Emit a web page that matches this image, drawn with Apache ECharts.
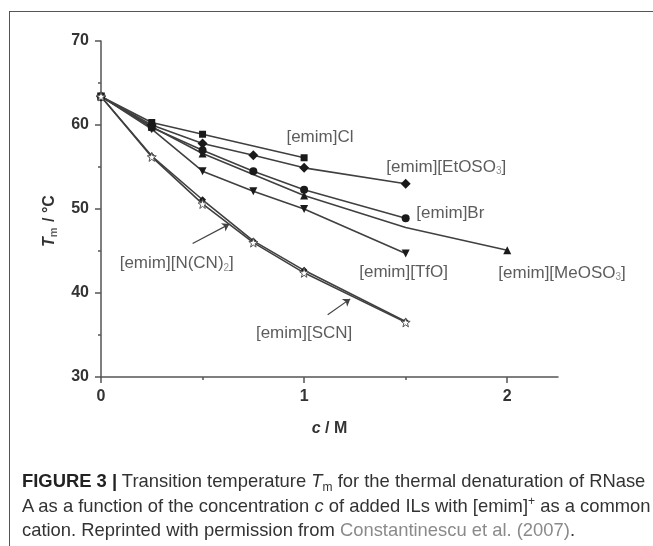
<!DOCTYPE html>
<html>
<head>
<meta charset="utf-8">
<script src="https://cdn.jsdelivr.net/npm/echarts@6/dist/echarts.min.js"></script>
<style>
html, body { margin: 0; padding: 0; background: #fff; }
#frame { position: absolute; left: 9px; top: 11px; width: 700px; height: 600px;
  border-left: 1.5px solid #555; border-top: 1.5px solid #555; }
#chart { position: absolute; left: 0; top: 0; width: 653px; height: 546px; }
#caption { position: absolute; left: 22px; top: 470px; white-space: nowrap;
  font-family: "Liberation Sans", Arial, sans-serif;
  font-size: 18.4px; line-height: 22.5px; color: #333; }
#caption b { color: #222; }
#caption .lo { font-size: 12px; position: relative; top: 4px; }
#caption .hi { font-size: 12px; position: relative; top: -7px; }
#caption .ref { color: #8a8a8a; }
</style>
</head>
<body>
<div id="frame"></div>
<div id="chart"></div>
<div id="caption">
<b>FIGURE 3 |</b> Transition temperature <i>T</i><span class="lo">m</span> for the thermal denaturation of RNase<br>
A as a function of the concentration <i>c</i> of added ILs with [emim]<span class="hi">+</span> as a common<br>
cation. Reprinted with permission from <span class="ref">Constantinescu et al. (2007)</span>.
</div>
<script>
// axis ticks
var cTicks = [0, 1, 2];
var cMinorTicks = [0.5, 1.5];
var tmTicks = [30, 40, 50, 60, 70];

// [c (M), Tm (°C)]
var clData     = [[0, 63.4], [0.25, 60.3], [0.5, 58.9], [1.0, 56.1]];
var etosoData  = [[0, 63.4], [0.25, 60.0], [0.5, 57.8], [0.75, 56.4], [1.0, 54.9], [1.5, 53.0]];
var brData     = [[0, 63.4], [0.25, 59.7], [0.5, 57.0], [0.75, 54.5], [1.0, 52.3], [1.5, 48.9]];
var meosoData  = [[0, 63.4], [0.25, 59.8], [0.5, 56.6], [1.0, 51.6], [1.5, 47.8], [2.0, 45.1]];
var tfoData    = [[0, 63.4], [0.25, 59.5], [0.5, 54.5], [0.75, 52.1], [1.0, 50.0], [1.5, 44.7]];
var scnData    = [[0, 63.4], [0.25, 56.3], [0.5, 51.1], [0.75, 46.2], [1.0, 42.7], [1.5, 36.6]];
var ncnData    = [[0, 63.4], [0.25, 56.2], [0.5, 50.6], [0.75, 46.0], [1.0, 42.4], [1.5, 36.5]];
// points on the MeOSO3 curve drawn without a marker
var meosoUnmarked = [1.5];

// series labels and where they sit (data coords of text centre)
var labelTexts = ['[emim]Cl', '[emim][EtOSO{s|3}]', '[emim]Br', '[emim][TfO]',
                  '[emim][MeOSO{s|3}]', '[emim][N(CN){s|2}]', '[emim][SCN]'];
var labelPos = [[1.078, 58.5], [1.70, 55.0], [1.72, 49.5], [1.49, 42.5],
                [2.27, 42.4], [0.373, 43.5], [1.0, 35.2]];

// pointer lines from labels to curves
var arrowNcn = [[0.451, 45.9], [0.632, 48.2]];
var arrowScn = [[1.116, 37.4], [1.227, 39.3]];

var starPath = 'path://M0,-10 L2.35,-3.24 L9.51,-3.09 L3.8,1.24 L5.88,8.09 L0,4 L-5.88,8.09 L-3.8,1.24 L-9.51,-3.09 L-2.35,-3.24Z';
var lineCol = '#404040';

function lineSeries(name, data, symbol, size, rotate, hollow, unmarked) {
    var items = data.map(function (p) {
        if (unmarked && unmarked.indexOf(p[0]) >= 0) {
            return { value: p, symbol: 'none' };
        }
        return { value: p };
    });
    return {
        name: name,
        type: 'line',
        data: items,
        symbol: symbol,
        symbolSize: size,
        symbolRotate: rotate,
        showSymbol: true,
        lineStyle: { color: lineCol, width: 1.6 },
        itemStyle: hollow ? { color: '#fff', borderColor: '#555', borderWidth: 1 }
                          : { color: '#1a1a1a', borderWidth: 0 },
        z: hollow ? 3 : 2
    };
}

var chart = echarts.init(document.getElementById('chart'));
var option = {
    animation: false,
    backgroundColor: 'transparent',
    grid: { left: 101, right: 95, top: 41, bottom: 169 },
    xAxis: [{
        type: 'value',
        min: 0, max: 2.25,
        name: '{i|c} / M',
        nameLocation: 'middle',
        nameGap: 44,
        nameTextStyle: {
            color: '#333', fontSize: 16, fontWeight: 'bold', fontFamily: 'Liberation Sans',
            rich: { i: { fontStyle: 'italic', fontWeight: 'bold', fontSize: 16, color: '#333', fontFamily: 'Liberation Sans' } }
        },
        axisLine: { lineStyle: { color: '#555', width: 1.5 } },
        axisTick: { customValues: cTicks, length: 6, lineStyle: { color: '#555', width: 1.5 } },
        axisLabel: { customValues: cTicks, margin: 12, color: '#333', fontSize: 16, fontWeight: 'bold', fontFamily: 'Liberation Sans' },
        splitLine: { show: false }
    }, {
        // minor ticks only
        type: 'value',
        min: 0, max: 2.25,
        position: 'top',
        offset: -336,
        axisLine: { show: false },
        axisTick: { customValues: cMinorTicks, inside: true, length: 3, lineStyle: { color: '#555', width: 1.5 } },
        axisLabel: { show: false },
        splitLine: { show: false }
    }],
    yAxis: {
        type: 'value',
        min: 30, max: 70, interval: 10,
        name: '{i|T}{s|m} / °C',
        nameLocation: 'middle',
        nameGap: 42,
        nameTextStyle: {
            color: '#333', fontSize: 16, fontWeight: 'bold', fontFamily: 'Liberation Sans',
            padding: [0, 24, 0, 0],
            rich: {
                i: { fontStyle: 'italic', fontWeight: 'bold', fontSize: 16, color: '#333', fontFamily: 'Liberation Sans' },
                s: { fontSize: 11, color: '#666', fontFamily: 'Liberation Sans', padding: [8, 1, 0, 0] }
            }
        },
        axisLine: { show: true, lineStyle: { color: '#555', width: 1.5 } },
        axisTick: { show: true, length: 6, lineStyle: { color: '#555', width: 1.5 } },
        minorTick: { show: true, splitNumber: 2, length: 3, lineStyle: { color: '#555', width: 1.5 } },
        axisLabel: { margin: 12, color: '#333', fontSize: 16, fontWeight: 'bold', fontFamily: 'Liberation Sans' },
        splitLine: { show: false }
    },
    series: [
        lineSeries('[emim]Cl', clData, 'rect', 7, 0, false),
        lineSeries('[emim][EtOSO3]', etosoData, 'diamond', 10, 0, false),
        lineSeries('[emim]Br', brData, 'circle', 8, 0, false),
        lineSeries('[emim][MeOSO3]', meosoData, 'triangle', 8, 0, false, meosoUnmarked),
        lineSeries('[emim][TfO]', tfoData, 'triangle', 8, 180, false),
        lineSeries('[emim][SCN]', scnData, 'diamond', 7, 0, false),
        lineSeries('[emim][N(CN)2]', ncnData, starPath, 9, 0, true),
        {
            name: 'labels',
            type: 'scatter',
            clip: false,
            symbolSize: 1,
            itemStyle: { color: 'rgba(0,0,0,0)' },
            data: labelPos.map(function (p, i) {
                return { value: p, label: { formatter: labelTexts[i] } };
            }),
            label: {
                show: true,
                position: 'inside',
                color: '#333',
                fontSize: 17,
                fontFamily: 'Liberation Sans',
                rich: { s: { fontSize: 10, color: '#777', fontFamily: 'Liberation Sans', padding: [9, 0, 0, 0] } }
            },
            markLine: {
                silent: true,
                symbol: ['none', 'arrow'],
                symbolSize: 7,
                label: { show: false },
                lineStyle: { color: '#444', width: 1.2, type: 'solid' },
                data: [
                    [{ coord: arrowNcn[0] }, { coord: arrowNcn[1] }],
                    [{ coord: arrowScn[0] }, { coord: arrowScn[1] }]
                ]
            }
        }
    ]
};
chart.setOption(option);
</script>
</body>
</html>
